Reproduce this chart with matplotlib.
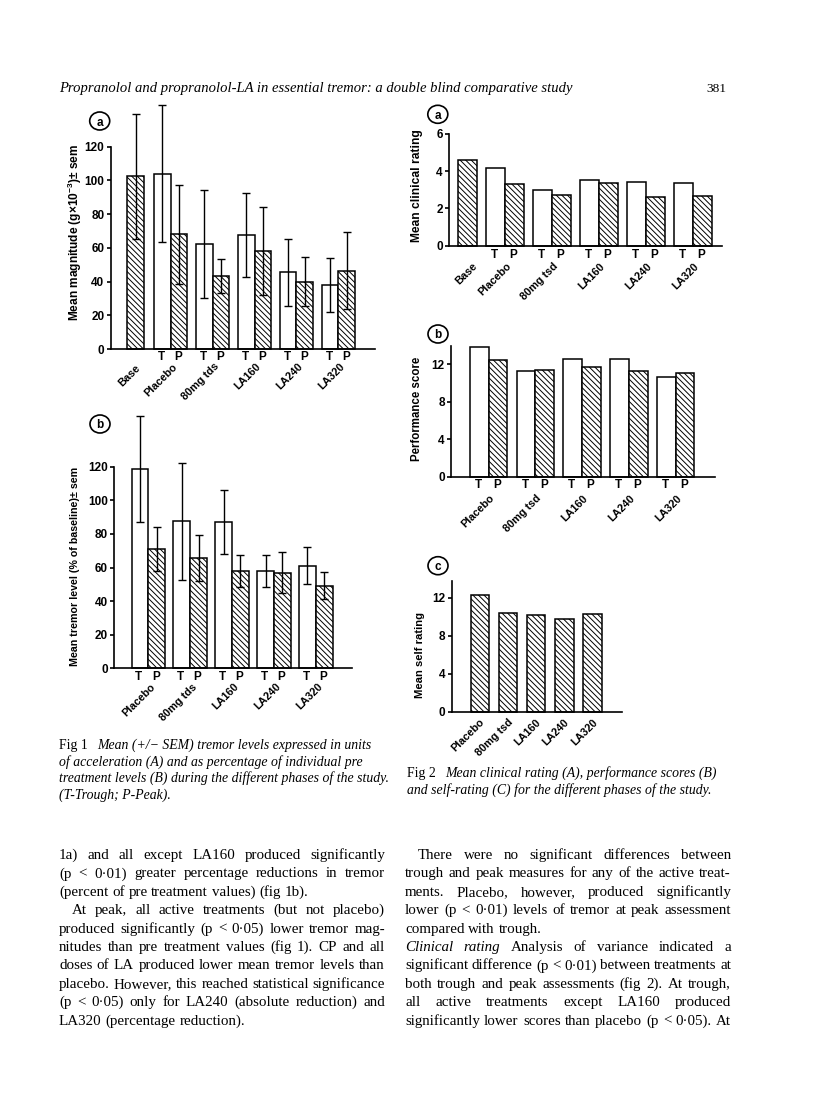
import matplotlib
matplotlib.use('Agg')
import matplotlib.pyplot as plt
from matplotlib.patches import Ellipse

plt.rcParams['font.family'] = ['Liberation Sans', 'DejaVu Sans']
plt.rcParams['mathtext.fontset'] = 'custom'
plt.rcParams['mathtext.rm'] = 'Liberation Sans:bold'
plt.rcParams['mathtext.it'] = 'Liberation Sans:italic:bold'
plt.rcParams['hatch.linewidth'] = 0.7

W, H = 816, 1110
SERIF = ['Liberation Serif', 'DejaVu Serif']
WT = 'bold'

# ---- values ----
fig1_groups = ['Placebo', '80mg tds', 'LA160', 'LA240', 'LA320']
fig1a_base, fig1a_base_sem = 102.5, 37
fig1a_trough = [104, 62.5, 67.5, 45.5, 38]
fig1a_trough_sem = [40.5, 32, 25, 20, 16]
fig1a_peak = [68, 43.5, 58, 40, 46.5]
fig1a_peak_sem = [29.5, 10, 26, 14.5, 23]

fig1b_trough = [118.5, 87.5, 87, 58, 61]
fig1b_trough_sem = [31.5, 35, 19, 9.5, 11]
fig1b_peak = [71, 65.5, 58, 57, 49.2]
fig1b_peak_sem = [13.3, 13.7, 9.4, 12, 8.1]

fig2_groups = ['Placebo', '80mg tsd', 'LA160', 'LA240', 'LA320']
fig2a_base = 4.6
fig2a_trough = [4.2, 3.0, 3.55, 3.4, 3.35]
fig2a_peak = [3.33, 2.72, 3.37, 2.63, 2.65]
fig2b_trough = [13.8, 11.3, 12.55, 12.55, 10.65]
fig2b_peak = [12.45, 11.4, 11.68, 11.25, 11.1]
fig2c_self = [12.3, 10.4, 10.2, 9.8, 10.25]

header = 'Propranolol and propranolol-LA in essential tremor: a double blind comparative study'
page_no = '381'

cap1 = ['Mean (+/\u2212 SEM) tremor levels expressed in units',
        'of acceleration (A) and as percentage of individual pre',
        'treatment levels (B) during the different phases of the study.',
        '(T-Trough; P-Peak).']
cap2 = ['Mean clinical rating (A), performance scores (B)',
        'and self-rating (C) for the different phases of the study.']

# '*' marks an italic word
left_text = [
    '1a) and all except LA160 produced significantly',
    '(p < 0\u00b701) greater percentage reductions in tremor',
    '(percent of pre treatment values) (fig 1b).',
    'At peak, all active treatments (but not placebo)',
    'produced significantly (p < 0\u00b705) lower tremor mag-',
    'nitudes than pre treatment values (fig 1). CP and all',
    'doses of LA produced lower mean tremor levels than',
    'placebo. However, this reached statistical significance',
    '(p < 0\u00b705) only for LA240 (absolute reduction) and',
    'LA320 (percentage reduction).',
]
left_last = {2, 9}
left_indent = {3}
right_text = [
    'There were no significant differences between',
    'trough and peak measures for any of the active treat-',
    'ments. Placebo, however, produced significantly',
    'lower (p < 0\u00b701) levels of tremor at peak assessment',
    'compared with trough.',
    '*Clinical *rating Analysis of variance indicated a',
    'significant difference (p < 0\u00b701) between treatments at',
    'both trough and peak assessments (fig 2). At trough,',
    'all active treatments except LA160 produced',
    'significantly lower scores than placebo (p < 0\u00b705). At',
]
right_last = {4}
right_indent = {0}

fig = plt.figure(figsize=(W / 100, H / 100), dpi=100)
fig.patch.set_facecolor('white')
renderer = fig.canvas.get_renderer()
HATCH = '\\\\\\\\\\\\'


def px_axes(left, right, y0, ytop):
    return fig.add_axes([left / W, 1 - y0 / H, (right - left) / W, (y0 - ytop) / H])


def style_axes(ax, xlim, ymax, yticks):
    ax.set_xlim(*xlim)
    ax.set_ylim(0, ymax)
    ax.set_yticks(yticks)
    ax.set_xticks([])
    ax.spines['top'].set_visible(False)
    ax.spines['right'].set_visible(False)
    ax.spines['left'].set_linewidth(1.2)
    ax.spines['bottom'].set_linewidth(1.2)
    ax.tick_params(axis='y', direction='out', length=3, width=1.2, labelsize=8.5, pad=1.5)
    for lab in ax.get_yticklabels():
        lab.set_fontweight(WT)
    ax.patch.set_alpha(0)


def bars(ax, x, h, hatched, width=1.0, err=None):
    ax.bar(x, h, width=width, facecolor='white', edgecolor='black', linewidth=1.1,
           hatch=HATCH if hatched else None, clip_on=False, zorder=2)
    if err is not None:
        c = ax.errorbar(x, h, yerr=err, fmt='none', ecolor='black', elinewidth=1.0,
                        capsize=2.6, capthick=1.0, zorder=3)
        for a in list(c.lines[1]) + list(c.lines[2]):
            a.set_clip_on(False)


def under(ax, x, s, dy, dx=0, rot=False, fs=7.8):
    if rot:
        ax.annotate(s, xy=(x, 0), xytext=(dx * 0.72, -dy * 0.72), textcoords='offset points',
                    rotation=45, rotation_mode='anchor', ha='right', va='center',
                    fontsize=fs, fontweight=WT, annotation_clip=False)
    else:
        ax.annotate(s, xy=(x, 0), xytext=(dx * 0.72, -dy * 0.72), textcoords='offset points',
                    ha='center', va='center', fontsize=fs, fontweight=WT, annotation_clip=False)


def pair_labels(ax, groups, t_dy, g_dy, g_dx):
    for i, g in enumerate(groups):
        under(ax, 2.5 * i, 'T', t_dy, -1, fs=8.5)
        under(ax, 2.5 * i + 1, 'P', t_dy, -1, fs=8.5)
        under(ax, 2.5 * i + 0.5, g, g_dy, g_dx, rot=True)


def ylab(x, y, s, length):
    t = fig.text(x / W, 1 - y / H, s, ha='center', va='center', fontsize=8, fontweight=WT)
    w = t.get_window_extent(renderer).width
    t.set_fontsize(8 * length / w)
    t.set_rotation(90)


def circ(x, y, s):
    fig.add_artist(Ellipse((x / W, 1 - y / H), 20 / W, 18 / H, transform=fig.transFigure,
                           fill=False, lw=1.2, color='black'))
    fig.text(x / W, 1 - y / H, s, ha='center', va='center_baseline', fontsize=8.5, fontweight=WT)


tx = [2.5 * i for i in range(5)]
px_ = [2.5 * i + 1 for i in range(5)]

# ---- Fig 1a ----
ax = px_axes(110.7, 375, 349, 146.7)
style_axes(ax, (-3.07, 12.68), 120, range(0, 121, 20))
bars(ax, [-1.57], [fig1a_base], True, err=[fig1a_base_sem])
bars(ax, tx, fig1a_trough, False, err=fig1a_trough_sem)
bars(ax, px_, fig1a_peak, True, err=fig1a_peak_sem)
under(ax, -1.57, 'Base', 17, 3, rot=True)
pair_labels(ax, fig1_groups, 8, 16, 5)
ylab(75, 232, 'Mean magnitude (g\u00d710$^{-3}$)\u00b1 sem', 178)
circ(99.7, 121, 'a')

# ---- Fig 1b ----
ax = px_axes(114.3, 351.7, 668.3, 466.7)
style_axes(ax, (-1.53, 12.64), 120, range(0, 121, 20))
bars(ax, tx, fig1b_trough, False, err=fig1b_trough_sem)
bars(ax, px_, fig1b_peak, True, err=fig1b_peak_sem)
pair_labels(ax, fig1_groups, 8.4, 17, 5)
ylab(75, 566.7, 'Mean tremor level (% of baseline)\u00b1 sem', 200)
circ(100, 424, 'b')

# ---- Fig 2a ----
ax = px_axes(449, 721.7, 245.7, 134)
style_axes(ax, (-2.49, 12.02), 6, range(0, 7, 2))
bars(ax, [-1.49], [fig2a_base], True)
bars(ax, tx, fig2a_trough, False)
bars(ax, px_, fig2a_peak, True)
under(ax, -1.49, 'Base', 19, 8, rot=True)
pair_labels(ax, fig2_groups, 9.3, 19, 4)
ylab(416.7, 186, 'Mean clinical rating', 112)
circ(437.8, 114.3, 'a')

# ---- Fig 2b ----
ax = px_axes(451, 715, 476.7, 345.6)
style_axes(ax, (-1.51, 12.6), 14, range(0, 13, 4))
bars(ax, tx, fig2b_trough, False)
bars(ax, px_, fig2b_peak, True)
pair_labels(ax, fig2_groups, 8.3, 20, 4)
ylab(416.7, 409, 'Performance score', 105)
circ(438, 334, 'b')

# ---- Fig 2c ----
ax = px_axes(451.7, 621.7, 711.7, 580.6)
style_axes(ax, (-1.0, 5.03), 13.8, range(0, 13, 4))
bars(ax, range(5), fig2c_self, True, width=0.65)
for i, g in enumerate(fig2_groups):
    under(ax, i, g, 9, 3, rot=True)
ylab(420, 655, 'Mean self rating', 86)
circ(438, 565.7, 'c')

# ---- page text ----
t = fig.text(59 / W, 1 - 92 / H, header, family=SERIF, style='italic', fontsize=10)
t.set_fontsize(10 * 514 / t.get_window_extent(renderer).width)
t = fig.text(726 / W, 1 - 92 / H, page_no, family=SERIF, ha='right', fontsize=10)
t.set_fontsize(10 * 20 / t.get_window_extent(renderer).width)

# captions
t = fig.text(0, 0, cap1[2], family=SERIF, style='italic', fontsize=9)
cap_fs = 9 * (386 - 59) / t.get_window_extent(renderer).width
t.remove()


def caption(label, lines, x0, y0):
    for i, line in enumerate(lines):
        yb = y0 + 16.5 * i
        x = x0
        if i == 0:
            tt = fig.text(x0 / W, 1 - yb / H, label, family=SERIF, fontsize=cap_fs)
            x = x0 + tt.get_window_extent(renderer).width + 9
        fig.text(x / W, 1 - yb / H, line, family=SERIF, style='italic', fontsize=cap_fs)


caption('Fig 1', cap1, 59, 749)
caption('Fig 2', cap2, 407, 777)

# body text, justified word by word
t = fig.text(0, 0, left_text[7], family=SERIF, fontsize=10)
body_fs = 10 * 324 / t.get_window_extent(renderer).width
t.remove()
t1 = fig.text(0, 0, 'a a', family=SERIF, fontsize=body_fs)
t2 = fig.text(0, 0, 'aa', family=SERIF, fontsize=body_fs)
space = t1.get_window_extent(renderer).width - t2.get_window_extent(renderer).width
t1.remove()
t2.remove()


def column(lines, x0, x1, y0, last, indent):
    for i, line in enumerate(lines):
        yb = y0 + 18.4 * i
        words = line.split()
        items, widths = [], []
        for w in words:
            it = w.startswith('*')
            s = w[1:] if it else w
            tt = fig.text(0, 1 - yb / H, s, family=SERIF, fontsize=body_fs,
                          style='italic' if it else 'normal')
            items.append(tt)
            widths.append(tt.get_window_extent(renderer).width)
        start = x0 + (13 if i in indent else 0)
        if i in last or len(items) == 1:
            gap = space
        else:
            gap = (x1 - start - sum(widths)) / (len(items) - 1)
        x = start
        for tt, w in zip(items, widths):
            tt.set_x(x / W)
            x += w + gap


column(left_text, 59, 385, 859, left_last, left_indent)
column(right_text, 405, 731, 859, right_last, right_indent)

fig.savefig('out.png', dpi=100, facecolor='white')
